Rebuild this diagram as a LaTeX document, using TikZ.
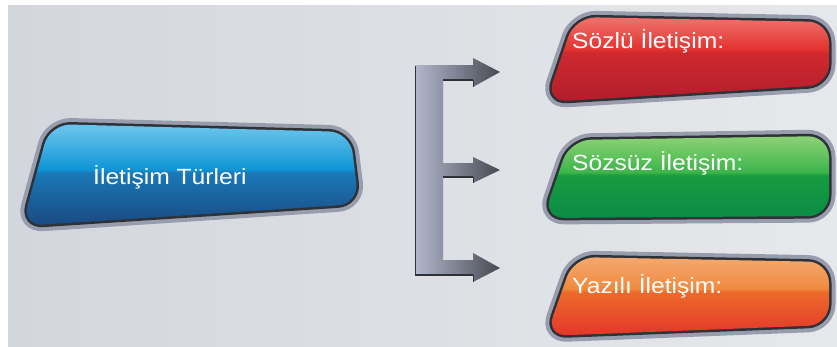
\documentclass[tikz,border=0pt]{standalone}
\usepackage{fontspec}
\newfontfamily\wfont[FakeStretch=1.12]{Liberation Sans}
\definecolor{bgA}{HTML}{D3D6DC}
\definecolor{bgB}{HTML}{EEEFF1}
\definecolor{bgC}{HTML}{E6E8EB}
\definecolor{rimA}{HTML}{989DAE}
\definecolor{rimB}{HTML}{2E3136}
\definecolor{bT}{HTML}{66C2EB}
\definecolor{bU}{HTML}{1096D6}
\definecolor{bM}{HTML}{1A78B7}
\definecolor{bB}{HTML}{1A4980}
\definecolor{rT}{HTML}{EE6D66}
\definecolor{rU}{HTML}{E3312F}
\definecolor{rM}{HTML}{CF292E}
\definecolor{rB}{HTML}{B21D2C}
\definecolor{gT}{HTML}{86CF72}
\definecolor{gU}{HTML}{3DB54A}
\definecolor{gM}{HTML}{179C40}
\definecolor{gB}{HTML}{0A8C46}
\definecolor{oT}{HTML}{F4A66A}
\definecolor{oU}{HTML}{F08A40}
\definecolor{oM}{HTML}{EC6A2A}
\definecolor{oB}{HTML}{E4362A}
\definecolor{arL}{HTML}{B2B7CD}
\definecolor{arR}{HTML}{474A52}
\pgfdeclareverticalshading{blueg}{100bp}{color(0bp)=(bB); color(25bp)=(bB); color(51bp)=(bM); color(53bp)=(bU); color(73bp)=(bT); color(100bp)=(bT)}
\pgfdeclareverticalshading{redg}{100bp}{color(0bp)=(rB); color(25bp)=(rB); color(54bp)=(rM); color(56bp)=(rU); color(73bp)=(rT); color(100bp)=(rT)}
\pgfdeclareverticalshading{greeng}{100bp}{color(0bp)=(gB); color(25bp)=(gB); color(51bp)=(gM); color(53bp)=(gU); color(73bp)=(gT); color(100bp)=(gT)}
\pgfdeclareverticalshading{orangeg}{100bp}{color(0bp)=(oB); color(25bp)=(oB); color(53bp)=(oM); color(55bp)=(oU); color(73bp)=(oT); color(100bp)=(oT)}
\tikzset{
  rimouter/.style={draw=rimA, line width=13pt, rounded corners=21pt},
  riminner/.style={draw=rimB, line width=5pt, rounded corners=21pt},
  glass/.style={shading=#1, rounded corners=21pt},
  glint/.style={draw=white, draw opacity=0.25, line width=1.2pt, rounded corners=19pt},
  label/.style={anchor=base west, inner sep=0pt, text=white, font=\wfont\fontsize{22}{26}\selectfont},
}
\newcommand{\mybutton}[5]{%
  \path[rimouter] #1 -- #2 -- #3 -- #4 -- cycle;
  \path[riminner] #1 -- #2 -- #3 -- #4 -- cycle;
  \path[glass=#5] #1 -- #2 -- #3 -- #4 -- cycle;
}
\begin{document}
\begin{tikzpicture}[x=1pt,y=-1pt]
\useasboundingbox (0,0) rectangle (837,346);
\fill[white] (0,0) rectangle (837,346);
\shade[left color=bgA, middle color=bgB, right color=bgC] (8,5) rectangle (837,346);
% buttons
\begin{scope}
\clip (0,0) rectangle (837,346);
\mybutton{(50,124)}{(350,132)}{(359,204)}{(22,226)}{blueg}
\mybutton{(575,17)}{(829,22)}{(829,85)}{(546,102)}{redg}
\mybutton{(570,140)}{(829,136)}{(829,216)}{(543,218)}{greeng}
\mybutton{(574,257)}{(829,262)}{(829,325)}{(546,336)}{orangeg}
\end{scope}
% bracket with arrows
\shade[left color=arL, right color=arR]
  (415,65) -- (473,65) -- (473,58) -- (500,72) -- (473,87) -- (473,80) -- (443,80)
  -- (443,163) -- (473,163) -- (473,157) -- (500,170) -- (473,183) -- (473,177) -- (443,177)
  -- (443,260) -- (473,260) -- (473,253) -- (500,268) -- (473,282) -- (473,275) -- (415,275) -- cycle;
\draw[rimB, line width=1.6pt] (415.5,66) -- (415.5,275) -- (473,275);
\draw[rimB, line width=1.2pt] (443,80) -- (473,80);
\draw[rimB, line width=1.2pt] (443,177) -- (473,177);
\draw[rimB, line width=1.0pt] (473,87) -- (473,80);
\draw[rimB, line width=1.0pt] (473,183) -- (473,177);
\draw[rimB, line width=1.0pt] (473,282) -- (473,275);
% labels
\node[label] (main) at (93,184) {İletişim Türleri};
\node[label] (sozlu) at (572,48) {Sözlü İletişim:};
\node[label] (sozsuz) at (572,170) {Sözsüz İletişim:};
\node[label] (yazili) at (572,293) {Yazılı İletişim:};
\end{tikzpicture}
\end{document}
